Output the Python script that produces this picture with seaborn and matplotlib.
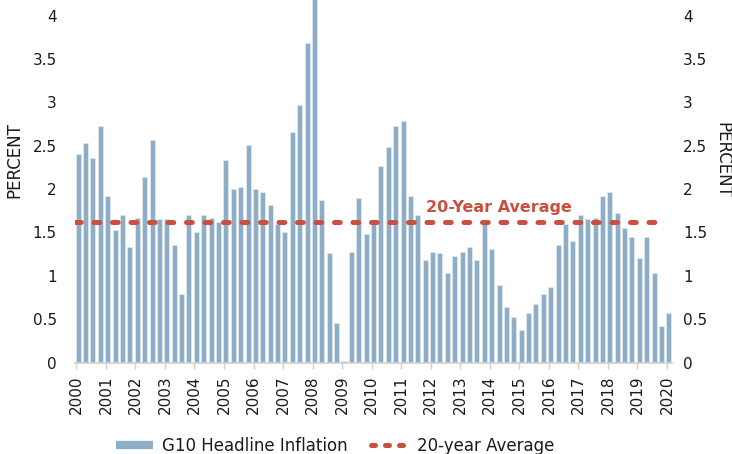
import matplotlib
matplotlib.use('Agg')
import matplotlib.pyplot as plt
from matplotlib.lines import Line2D
import seaborn as sns
import pandas as pd

# quarterly G10 headline inflation, 2000 Q1 .. 2020 Q1
inflation = [2.41, 2.53, 2.36, 2.73, 1.92, 1.53, 1.70, 1.33,
             1.67, 2.14, 2.56, 1.65, 1.65, 1.35, 0.79, 1.70,
             1.50, 1.70, 1.67, 1.62, 2.33, 2.00, 2.02, 2.51,
             2.00, 1.97, 1.82, 1.60, 1.50, 2.66, 2.97, 3.68,
             4.25, 1.87, 1.26, 0.45, 0.02, 1.28, 1.90, 1.48,
             1.60, 2.27, 2.48, 2.73, 2.78, 1.92, 1.70, 1.18,
             1.28, 1.26, 1.03, 1.23, 1.28, 1.33, 1.18, 1.60,
             1.31, 0.89, 0.64, 0.52, 0.37, 0.57, 0.67, 0.79,
             0.87, 1.35, 1.60, 1.40, 1.70, 1.65, 1.67, 1.92,
             1.97, 1.72, 1.55, 1.45, 1.21, 1.45, 1.03, 0.42,
             0.57]
year_labels = ['2000', '2001', '2002', '2003', '2004', '2005', '2006',
               '2007', '2008', '2009', '2010', '2011', '2012', '2013',
               '2014', '2015', '2016', '2017', '2018', '2019', '2020']
avg_20y = 1.62
y_ticks = [0, 0.5, 1, 1.5, 2, 2.5, 3, 3.5, 4]
y_tick_labels = ['0', '0.5', '1', '1.5', '2', '2.5', '3', '3.5', '4']

quarters = [f'{y}Q{q}' for y in year_labels for q in range(1, 5)][:len(inflation)]
df = pd.DataFrame({'quarter': quarters, 'inflation': inflation})

bar_col = '#8DAEC6'
red = '#C9503F'
txt = '#1a1a1a'

sns.set_style('white')
plt.rcParams['font.family'] = ['DejaVu Sans']

fig = plt.figure(figsize=(7.32, 4.54), dpi=100)
ax = fig.add_axes([0.1023, 0.2015, 0.816, 0.7985])

sns.barplot(data=df, x='quarter', y='inflation', color=bar_col, saturation=1,
            width=0.68, edgecolor='#dde7ee', linewidth=0.6, ax=ax)

# 20-year average
ax.axhline(avg_20y, xmin=0, xmax=0.985, color=red, lw=3.6,
           linestyle=(0, (1.15, 2.55)), dash_capstyle='round', zorder=5)
ax.text(57.0, 1.74, '20-Year Average', color=red, fontsize=11.5, fontweight='bold',
        ha='center', va='baseline')

ax.set_xlim(-0.45, len(inflation) - 0.55)
ax.set_ylim(0, 4.18)
ax.set_xlabel('')
ax.set_ylabel('')

ax.set_xticks([4 * i - 0.25 for i in range(len(year_labels))])
ax.set_xticklabels(year_labels, rotation=90, fontsize=11, color=txt)
ax.tick_params(axis='x', length=4, width=1, color='#d0d0d0', pad=5, bottom=True)

ax.set_yticks(y_ticks)
ax.set_yticklabels(y_tick_labels, fontsize=11, color=txt)
ax.tick_params(axis='y', length=0, pad=13)

for s in ['top', 'left', 'right']:
    ax.spines[s].set_visible(False)
ax.spines['bottom'].set_color('#d0d0d0')
ax.spines['bottom'].set_linewidth(1.2)

ax2 = ax.twinx()
ax2.set_ylim(ax.get_ylim())
ax2.set_yticks(y_ticks)
ax2.set_yticklabels(y_tick_labels, fontsize=11, color=txt)
ax2.tick_params(axis='y', length=0, pad=8)
for s in ax2.spines.values():
    s.set_visible(False)

fig.text(14 / 732, 1 - 160 / 454, 'PERCENT', rotation=90, ha='center', va='center',
         fontsize=12, color=txt)
fig.text(722 / 732, 1 - 160 / 454, 'PERCENT', rotation=270, ha='center', va='center',
         fontsize=12, color=txt)

handles = [Line2D([], [], color=bar_col, lw=6, solid_capstyle='butt'),
           Line2D([], [], color=red, lw=3.6, linestyle=(0, (0.8, 2.0)),
                  dash_capstyle='round')]
fig.legend(handles, ['G10 Headline Inflation', '20-year Average'], loc='center',
           bbox_to_anchor=(0.4577, 0.0183), ncol=2, frameon=False, fontsize=12,
           handlelength=2.2, columnspacing=1.4, handletextpad=0.55,
           labelcolor=txt)

fig.savefig('out.png', dpi=100)
